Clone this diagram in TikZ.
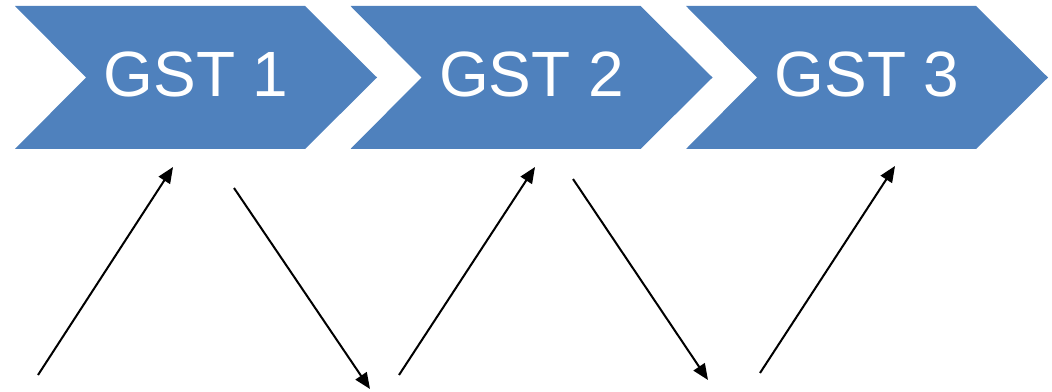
\documentclass[tikz,border=0pt]{standalone}
\usepackage{fontspec}
\setmainfont{Liberation Sans}
\usetikzlibrary{arrows.meta}
\definecolor{gstblue}{HTML}{4F81BD}
\def\gstsep{335.5}

\begin{document}
\begin{tikzpicture}[x=0.75pt,y=-0.75pt,>={Triangle[length=12pt,width=10pt]}]
    \tikzstyle{chevron}=[fill=gstblue]
    \tikzstyle{stage text}=[text=white,font=\fontsize{48}{56}\selectfont,inner sep=0pt]
    \tikzstyle{link}=[->,line width=1.5pt,black]

    \useasboundingbox (0,0) rectangle (1052,392);

    % Draw the three stages
    \foreach \i [evaluate=\i as \dx using (\i-1)*\gstsep] in {1,2,3} {
        \fill[chevron] ({15+\dx},6) -- ({305+\dx},6) -- ({377+\dx},77.5)
            -- ({305+\dx},149) -- ({15+\dx},149) -- ({86+\dx},77.5) -- cycle;
        \node[stage text] (gst-\i) at ({196+\dx},74) {GST \i};
    }

    % End points of the zigzag
    \foreach \name / \x / \y in {lo-1/38/375, hi-1/173/167, hi-2/234/188, lo-2/370/389,
                                 lo-3/399/375, hi-3/535/167, hi-4/573/179, lo-4/708/380,
                                 lo-5/760/373, hi-5/895/166}
        \coordinate (\name) at (\x,\y);

    % Zigzag between the stages
    \draw[link] (lo-1) -- (hi-1);
    \draw[link] (hi-2) -- (lo-2);
    \draw[link] (lo-3) -- (hi-3);
    \draw[link] (hi-4) -- (lo-4);
    \draw[link] (lo-5) -- (hi-5);
\end{tikzpicture}
\end{document}
